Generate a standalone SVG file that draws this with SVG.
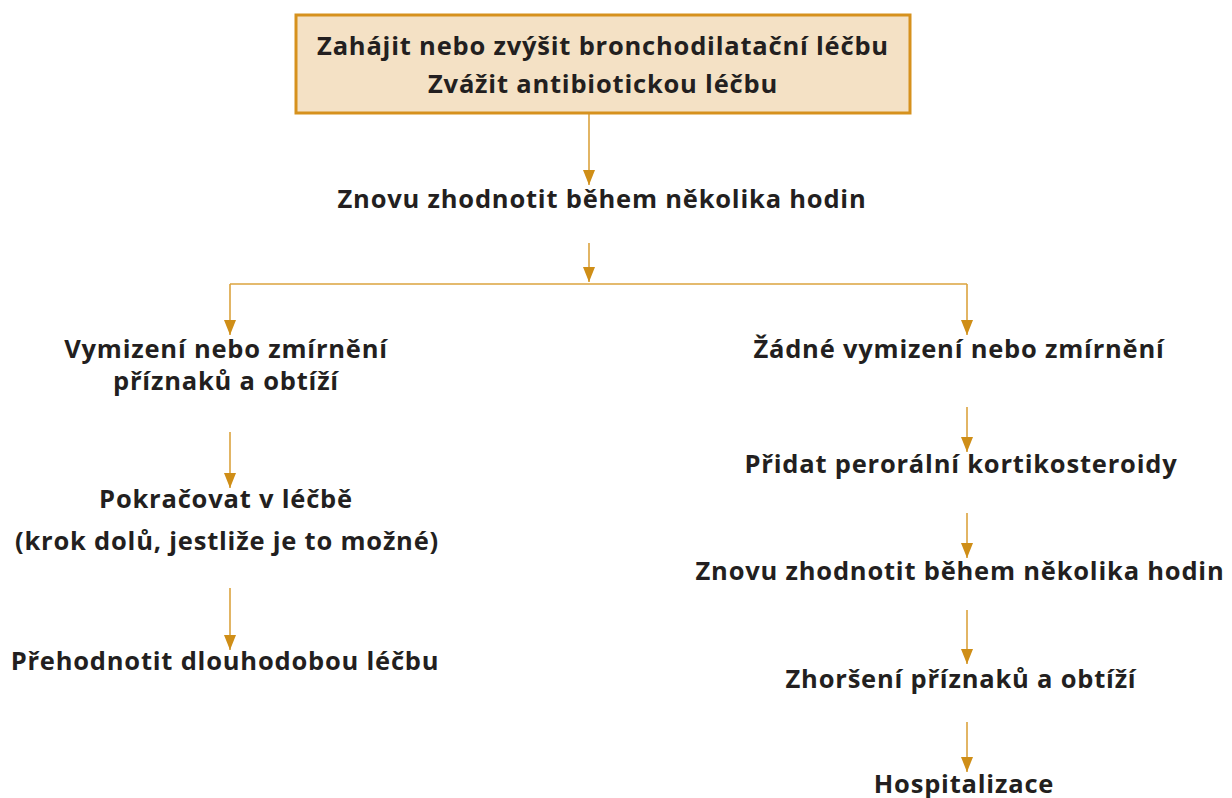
<svg xmlns="http://www.w3.org/2000/svg" width="1232" height="798" viewBox="0 0 1232 798">
  <defs>
    <marker id="ah" markerUnits="userSpaceOnUse" markerWidth="16" markerHeight="14" viewBox="0 0 16 14" refX="15" refY="7" orient="auto">
      <path d="M0,1 L15,7 L0,13 Z" fill="#cf8e17"/>
    </marker>
    <style>
      .t { font-family: "Open Sans", "Noto Sans", "DejaVu Sans", sans-serif; font-weight: 700; font-size: 25.5px; letter-spacing: 0.8px; fill: #231f20; text-anchor: middle; }
      .c { stroke: #dba33e; stroke-width: 1.6; fill: none; }
      .a { marker-end: url(#ah); }
    </style>
  </defs>
  <rect width="1232" height="798" fill="#ffffff"/>

  <g id="connectors">
    <path class="c a" d="M589,113 V185"/>
    <path class="c a" d="M589,243 V282"/>
    <path class="c" d="M230,284 H967"/>
    <path class="c a" d="M230,284 V335"/>
    <path class="c a" d="M967,284 V335"/>
    <path class="c a" d="M230,432 V488"/>
    <path class="c a" d="M230,588 V650"/>
    <path class="c a" d="M967,407 V452"/>
    <path class="c a" d="M967,513 V558"/>
    <path class="c a" d="M967,610 V664"/>
    <path class="c a" d="M967,722 V772"/>
  </g>

  <g id="n1">
    <rect x="296" y="15" width="614" height="98" fill="#f4e1c5" stroke="#d6911d" stroke-width="3"/>
    <text class="t" x="603" y="55">Zahájit nebo zvýšit bronchodilatační léčbu</text>
    <text class="t" x="603" y="93">Zvážit antibiotickou léčbu</text>
  </g>
  <g id="n2">
    <text class="t" x="602" y="208">Znovu zhodnotit během několika hodin</text>
  </g>
  <g id="n3">
    <text class="t" x="226" y="358">Vymizení nebo zmírnění</text>
    <text class="t" x="226" y="390">příznaků a obtíží</text>
  </g>
  <g id="n4">
    <text class="t" x="959" y="358">Žádné vymizení nebo zmírnění</text>
  </g>
  <g id="n5">
    <text class="t" x="226" y="508">Pokračovat v léčbě</text>
    <text class="t" x="227" y="550">(krok dolů, jestliže je to možné)</text>
  </g>
  <g id="n6">
    <text class="t" x="225" y="670">Přehodnotit dlouhodobou léčbu</text>
  </g>
  <g id="n7">
    <text class="t" x="961" y="473">Přidat perorální kortikosteroidy</text>
  </g>
  <g id="n8">
    <text class="t" x="960" y="580">Znovu zhodnotit během několika hodin</text>
  </g>
  <g id="n9">
    <text class="t" x="961" y="688">Zhoršení příznaků a obtíží</text>
  </g>
  <g id="n10">
    <text class="t" x="964" y="793">Hospitalizace</text>
  </g>
</svg>
